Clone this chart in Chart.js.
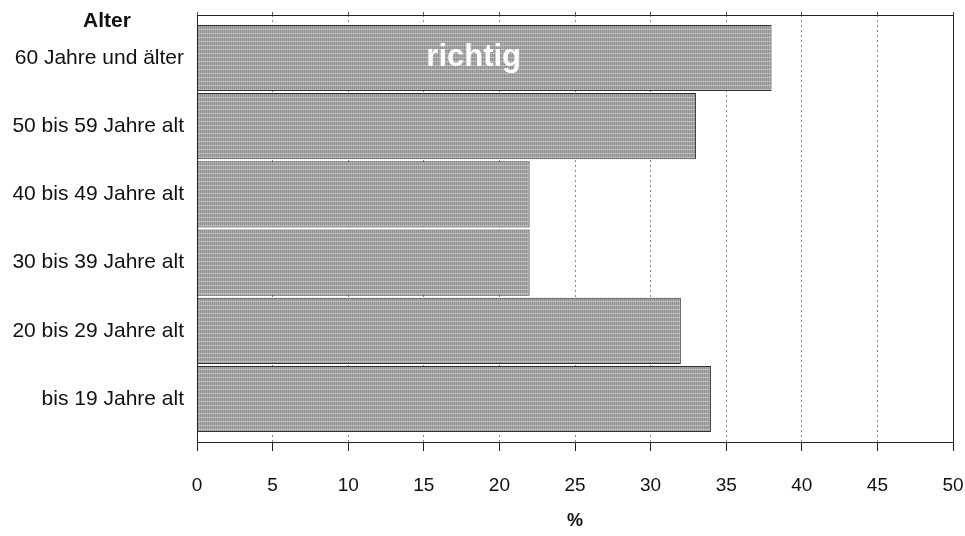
<!DOCTYPE html>
<html>
<head>
<meta charset="utf-8">
<script src="https://cdn.jsdelivr.net/npm/chart.js@4/dist/chart.umd.min.js"></script>
<style>
  html, body { margin: 0; padding: 0; background: #fff; }
  #wrap { width: 965px; height: 536px; }
</style>
</head>
<body>
<div id="wrap"><canvas id="chart"></canvas></div>
<script>
const categories = ['60 Jahre und älter', '50 bis 59 Jahre alt', '40 bis 49 Jahre alt',
	'30 bis 39 Jahre alt', '20 bis 29 Jahre alt', 'bis 19 Jahre alt'];
const richtig_values = [38, 33, 22, 22, 32, 34];
const x_ticks = [0, 5, 10, 15, 20, 25, 30, 35, 40, 45, 50];
const series_label = 'richtig';
const axis_title_y = 'Alter';
const axis_title_x = '%';

const ctx = document.getElementById('chart');
const font_family = '"Liberation Sans", Arial, sans-serif';

// grey striped fill, a rough stand-in for the scanned texture
function makePattern () {
	const c = document.createElement('canvas');
	c.width = 4;
	c.height = 4;
	const g = c.getContext('2d');
	g.fillStyle = '#ababab';
	g.fillRect(0, 0, 4, 4);
	g.fillStyle = '#909090';
	g.fillRect(0, 0, 1, 4);
	g.fillRect(2, 0, 1, 4);
	g.fillStyle = '#bebebe';
	g.fillRect(0, 1, 4, 1);
	return g.createPattern(c, 'repeat');
}

// fixed axis sizes, and no extra room for overhanging tick labels
function fixSize (size) {
	return s => {
		if (s.isHorizontal()) s.height = size; else s.width = size;
		s.paddingLeft = s.paddingRight = s.paddingTop = s.paddingBottom = 0;
	};
}

// draws "Alter" above the category labels and "richtig" inside the first bar
const labelPlugin = {
	id: 'labels',
	afterDatasetsDraw (chart) {
		const c = chart.ctx;
		const x = chart.scales.x;
		const y = chart.scales.y;
		c.save();
		c.fillStyle = '#ffffff';
		c.font = 'bold 31px ' + font_family;
		c.textAlign = 'center';
		c.textBaseline = 'middle';
		c.fillText(series_label, x.getPixelForValue(18.3), y.getPixelForValue(0) - 1);
		c.fillStyle = '#111';
		c.font = 'bold 21px ' + font_family;
		c.fillText(axis_title_y, 107, 21);
		c.restore();
	}
};

// bars sit on a numeric index axis so the plot can keep a margin above and below
const bar_data = richtig_values.map((v, i) => ({ x: v, y: i }));

new Chart(ctx, {
	type: 'bar',
	data: {
		datasets: [{
			label: series_label,
			data: bar_data,
			backgroundColor: makePattern(),
			borderColor: '#333333',
			borderWidth: 1,
			borderSkipped: false,
			barPercentage: 0.97,
			categoryPercentage: 1
		}]
	},
	options: {
		indexAxis: 'y',
		responsive: true,
		maintainAspectRatio: false,
		animation: false,
		layout: { autoPadding: false, padding: { top: 15, right: 12, left: 0, bottom: 0 } },
		plugins: {
			legend: { display: false },
			tooltip: { enabled: false }
		},
		scales: {
			x: {
				min: 0,
				max: 50,
				position: 'bottom',
				afterFit: fixSize(94),
				afterBuildTicks: s => { s.ticks = x_ticks.map(v => ({ value: v })); },
				border: { display: true, color: '#222', width: 1, dash: [2, 3] },
				grid: {
					color: '#8a8a8a',
					lineWidth: 1,
					tickColor: '#222',
					tickLength: 9,
					tickBorderDash: [],
					drawTicks: true
				},
				ticks: {
					padding: 23,
					color: '#111',
					font: { size: 19, family: font_family }
				},
				title: {
					display: true,
					text: axis_title_x,
					color: '#111',
					padding: { top: 8, bottom: 4 },
					font: { size: 18, weight: 'bold', family: font_family }
				}
			},
			x2: {
				min: 0,
				max: 50,
				position: 'top',
				afterFit: fixSize(0),
				afterBuildTicks: s => { s.ticks = x_ticks.map(v => ({ value: v })); },
				border: { display: true, color: '#222', width: 1 },
				grid: { display: true, drawOnChartArea: false, tickLength: 3, tickColor: '#555' },
				ticks: { display: false }
			},
			y: {
				type: 'linear',
				reverse: true,
				offset: false,
				min: -0.63,
				max: 5.63,
				afterFit: fixSize(197),
				border: { display: true, color: '#222', width: 1 },
				grid: { display: false, drawTicks: false, offset: false },
				ticks: {
					stepSize: 1,
					includeBounds: false,
					padding: 13,
					color: '#111',
					font: { size: 21, family: font_family },
					callback: v => categories[v]
				}
			},
			y2: {
				position: 'right',
				afterFit: fixSize(0),
				border: { display: true, color: '#222', width: 1 },
				grid: { display: false, drawTicks: false },
				ticks: { display: false }
			}
		}
	},
	plugins: [labelPlugin]
});
</script>
</body>
</html>
